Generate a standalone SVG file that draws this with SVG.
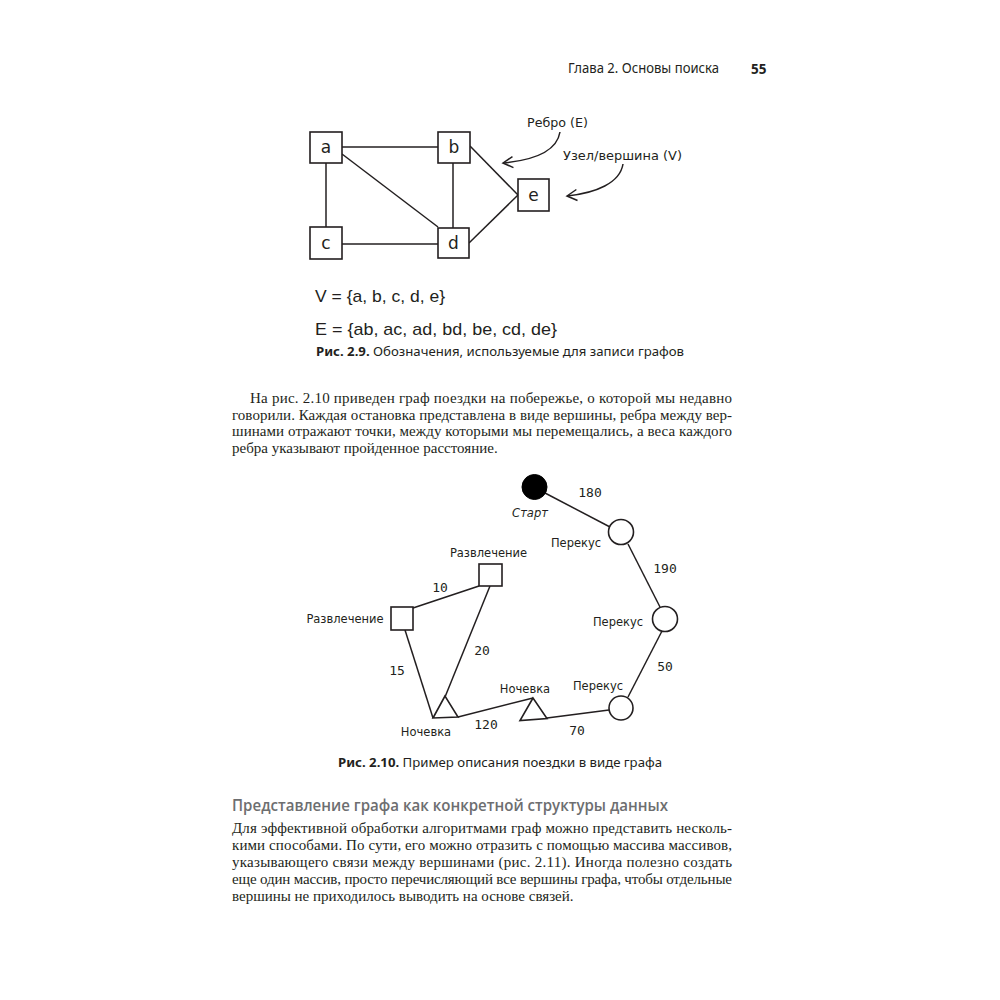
<svg xmlns="http://www.w3.org/2000/svg" width="1000" height="1000" viewBox="0 0 1000 1000">
<style>
.bg{fill:#ffffff}
.ln{stroke:#231f20;stroke-width:1.5;fill:none}
.box{stroke:#231f20;stroke-width:1.6;fill:#ffffff}
.let{font-family:"DejaVu Sans","Liberation Sans",sans-serif;font-size:17px;fill:#231f20;text-anchor:middle}
.ann{font-family:"DejaVu Sans",sans-serif;font-size:11.5px;fill:#231f20}
.fx{font-family:"Liberation Sans",Arial,sans-serif;font-size:17px;fill:#231f20}
.cap{font-family:"Noto Sans","Open Sans",sans-serif;font-size:13.2px;fill:#231f20;text-anchor:middle}
.body{font-family:"Liberation Serif","Times New Roman",serif;font-size:15px;fill:#231f20}
.lbl{font-family:"DejaVu Sans",sans-serif;font-size:11.5px;fill:#231f20;text-anchor:middle}
.num{font-family:"DejaVu Sans Mono",monospace;font-size:13px;fill:#231f20;text-anchor:middle}
.hd{font-family:"Open Sans","Noto Sans",sans-serif;font-size:17px;font-weight:600;fill:#6d6e70}
.hdr{font-family:"Noto Sans","Open Sans",sans-serif;font-size:13.5px;fill:#231f20}
</style>
<defs>
<marker id="chev" viewBox="-12 -7 14 14" refX="0" refY="0" markerWidth="14" markerHeight="14" markerUnits="userSpaceOnUse" orient="auto">
<path d="M-10,-5.5 L0,0 L-10,5.5" fill="none" stroke="#231f20" stroke-width="1.5"/>
</marker>
</defs>
<rect class="bg" x="0" y="0" width="1000" height="1000"/>

<g id="page-header">
<text class="hdr" x="568" y="73" textLength="151" lengthAdjust="spacingAndGlyphs">Глава 2. Основы поиска</text>
<text class="hdr" x="751" y="74" font-weight="bold" font-size="15">55</text>
</g>

<!-- Figure 2.9 -->
<g id="fig29-connectors">
<line class="ln" x1="342" y1="147" x2="438" y2="147"/>
<line class="ln" x1="326" y1="163" x2="326" y2="227"/>
<line class="ln" x1="342" y1="244" x2="438" y2="244"/>
<line class="ln" x1="453" y1="163" x2="453" y2="228"/>
<line class="ln" x1="342" y1="154" x2="438" y2="227"/>
<line class="ln" x1="470" y1="146" x2="518" y2="195"/>
<line class="ln" x1="469" y1="243" x2="518" y2="195"/>
<path class="ln" d="M560,132 C557,150 536,160 503,163" marker-end="url(#chev)"/>
<path class="ln" d="M623,164 C620,183 596,193 567,196" marker-end="url(#chev)"/>
</g>
<g id="node-a"><rect class="box" x="310" y="132" width="32" height="31"/><text class="let" x="326" y="153">a</text></g>
<g id="node-b"><rect class="box" x="438" y="132" width="32" height="31"/><text class="let" x="454" y="153">b</text></g>
<g id="node-c"><rect class="box" x="310" y="227" width="32" height="32"/><text class="let" x="326" y="249">c</text></g>
<g id="node-d"><rect class="box" x="438" y="228" width="31" height="30"/><text class="let" x="453.5" y="249">d</text></g>
<g id="node-e"><rect class="box" x="518" y="179" width="31" height="32"/><text class="let" x="533.5" y="201">e</text></g>
<g id="annotations">
<text class="ann" x="527" y="127" textLength="61" lengthAdjust="spacingAndGlyphs">Ребро (E)</text>
<text class="ann" x="563" y="160" textLength="119" lengthAdjust="spacingAndGlyphs">Узел/вершина (V)</text>
</g>
<g id="fig29-formulas">
<text class="fx" x="315" y="302" textLength="130" lengthAdjust="spacingAndGlyphs">V = {a, b, c, d, e}</text>
<text class="fx" x="315" y="335" textLength="242" lengthAdjust="spacingAndGlyphs">E = {ab, ac, ad, bd, be, cd, de}</text>
<text class="cap" x="500" y="356"><tspan font-weight="bold">Рис. 2.9.</tspan> Обозначения, используемые для записи графов</text>
</g>

<g id="paragraph-1">
<text class="body" x="250" y="403" textLength="482" lengthAdjust="spacing">На рис. 2.10 приведен граф поездки на побережье, о которой мы недавно</text>
<text class="body" x="232" y="419.5" textLength="500" lengthAdjust="spacing">говорили. Каждая остановка представлена в виде вершины, ребра между вер-</text>
<text class="body" x="232" y="436" textLength="500" lengthAdjust="spacing">шинами отражают точки, между которыми мы перемещались, а веса каждого</text>
<text class="body" x="232" y="452.5">ребра указывают пройденное расстояние.</text>
</g>

<!-- Figure 2.10 -->
<g id="fig210-connectors">
<line class="ln" x1="545" y1="493" x2="610" y2="527"/>
<line class="ln" x1="628" y1="544" x2="660" y2="607"/>
<line class="ln" x1="662" y1="631" x2="628" y2="697"/>
<line class="ln" x1="609" y1="710" x2="547" y2="718"/>
<line class="ln" x1="458" y1="717" x2="533" y2="698"/>
<line class="ln" x1="490" y1="586" x2="445" y2="697"/>
<line class="ln" x1="413" y1="608" x2="479" y2="586"/>
<line class="ln" x1="405" y1="630" x2="433" y2="718"/>
</g>
<g id="edge-labels">
<text class="num" x="590" y="497">180</text>
<text class="num" x="665" y="573">190</text>
<text class="num" x="665" y="671">50</text>
<text class="num" x="577" y="735">70</text>
<text class="num" x="486" y="729">120</text>
<text class="num" x="482" y="655">20</text>
<text class="num" x="397" y="675">15</text>
<text class="num" x="440" y="592">10</text>
</g>
<g id="node-start"><circle cx="534.5" cy="487" r="12.5" fill="#000000" stroke="#000000" stroke-width="1"/><text class="lbl" x="530" y="517" font-style="italic" font-size="12.5">Старт</text></g>
<g id="node-snack1"><circle class="box" cx="621" cy="532" r="12.5"/><text class="lbl" x="576" y="547">Перекус</text></g>
<g id="node-snack2"><circle class="box" cx="665" cy="619" r="12.5"/><text class="lbl" x="618" y="626">Перекус</text></g>
<g id="node-snack3"><circle class="box" cx="621" cy="708" r="12"/><text class="lbl" x="598" y="690">Перекус</text></g>
<g id="node-sleep2"><path class="box" d="M533,698 L520,720.5 L547,718.5 Z"/><text class="lbl" x="525" y="693">Ночевка</text></g>
<g id="node-sleep1"><path class="box" d="M445,696 L433,718 L458,717 Z"/><text class="lbl" x="426" y="736">Ночевка</text></g>
<g id="node-fun1"><rect class="box" x="391" y="607" width="22" height="23"/><text class="lbl" x="345" y="623">Развлечение</text></g>
<g id="node-fun2"><rect class="box" x="479" y="564" width="23" height="22"/><text class="lbl" x="488.5" y="557">Развлечение</text></g>
<text class="cap" x="500" y="767"><tspan font-weight="bold">Рис. 2.10.</tspan> Пример описания поездки в виде графа</text>

<g id="section">
<text class="hd" x="232" y="811" textLength="436" lengthAdjust="spacingAndGlyphs">Представление графа как конкретной структуры данных</text>
<text class="body" x="232" y="833" textLength="500" lengthAdjust="spacing">Для эффективной обработки алгоритмами граф можно представить несколь-</text>
<text class="body" x="232" y="850" textLength="500" lengthAdjust="spacing">кими способами. По сути, его можно отразить с помощью массива массивов,</text>
<text class="body" x="232" y="867" textLength="500" lengthAdjust="spacing">указывающего связи между вершинами (рис. 2.11). Иногда полезно создать</text>
<text class="body" x="232" y="884" textLength="500" lengthAdjust="spacing">еще один массив, просто перечисляющий все вершины графа, чтобы отдельные</text>
<text class="body" x="232" y="901">вершины не приходилось выводить на основе связей.</text>
</g>
</svg>
